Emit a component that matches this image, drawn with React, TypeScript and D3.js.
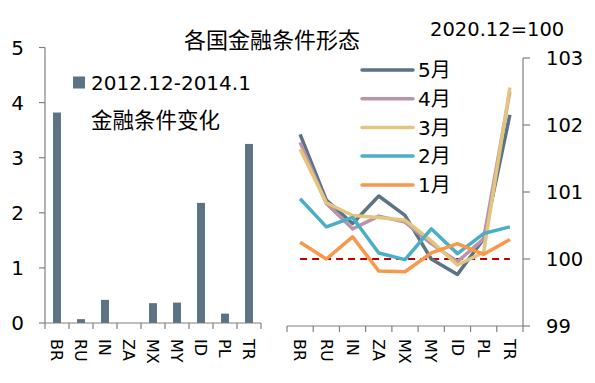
import React from "react";
import * as d3 from "d3";

const categories = ["BR", "RU", "IN", "ZA", "MX", "MY", "ID", "PL", "TR"];
const barValues = [3.82, 0.07, 0.42, 0, 0.36, 0.37, 2.18, 0.17, 3.25];
const barTicks = [0, 1, 2, 3, 4, 5];
const lineTicks = [99, 100, 101, 102, 103];

const seriesNames = ["5月", "4月", "3月", "2月", "1月"];
const may = [101.86, 100.88, 100.53, 100.94, 100.65, 100.0, 99.77, 100.3, 102.15];
const apr = [101.74, 100.83, 100.45, 100.64, 100.55, 100.23, 99.96, 100.3, 102.5];
const mar = [101.64, 100.84, 100.65, 100.62, 100.58, 100.27, 99.91, 100.1, 102.56];
const feb = [100.9, 100.48, 100.62, 100.09, 99.99, 100.45, 100.08, 100.38, 100.48];
const jan = [100.25, 100.0, 100.33, 99.82, 99.81, 100.09, 100.23, 100.07, 100.29];
const seriesValues = [may, apr, mar, feb, jan];
const seriesColors = ["#5b7384", "#bb94a8", "#e3c57e", "#4aaec6", "#f7984a"];
const baseline = 100;

const FONT = "'DejaVu Sans', 'Noto Sans CJK SC', sans-serif";
const AXIS = "#808080";

export default function App() {
  // Left chart
  const lx0 = 45, lx1 = 261, ly0 = 323, ly1 = 47.5;
  const xb = d3.scaleBand<string>().domain(categories).range([lx0, lx1]).paddingInner(0.67).paddingOuter(0.335);
  const yb = d3.scaleLinear().domain([0, 5]).range([ly0, ly1]);
  const lstep = (lx1 - lx0) / categories.length;

  // Right chart
  const rx0 = 287, rx1 = 523, ry0 = 326, ry1 = 58;
  const xp = d3.scalePoint<string>().domain(categories).range([rx0, rx1]).padding(0.5);
  const yl = d3.scaleLinear().domain([99, 103]).range([ry0, ry1]);
  const rstep = (rx1 - rx0) / categories.length;
  const line = d3.line<number>().x((_, i) => xp(categories[i]) as number).y((d) => yl(d));

  const legendY = [70, 98.7, 127.5, 156, 185];

  return (
    <svg width={595} height={383} style={{ position: "absolute", left: 0, top: 0, background: "#fff" }} fontFamily={FONT}>
      <rect width={595} height={383} fill="#fff" />
      <text x={272} y={40} fontSize={22} textAnchor="middle" dominantBaseline="central" fill="#000">各国金融条件形态</text>

      {/* Left bars */}
      {categories.map((c, i) => (
        <rect key={c} x={xb(c)} width={xb.bandwidth()} y={yb(barValues[i])} height={ly0 - yb(barValues[i])} fill="#5b7384" />
      ))}
      <line x1={lx0} x2={lx0} y1={ly0} y2={ly1} stroke={AXIS} strokeWidth={1.2} />
      <line x1={lx0} x2={lx1} y1={ly0} y2={ly0} stroke={AXIS} strokeWidth={1.2} />
      {barTicks.map((t) => (
        <g key={t}>
          <line x1={lx0 - 6} x2={lx0} y1={yb(t)} y2={yb(t)} stroke={AXIS} strokeWidth={1.2} />
          <text x={24} y={yb(t)} fontSize={20} textAnchor="end" dominantBaseline="central" fill="#000">{t}</text>
        </g>
      ))}
      {d3.range(categories.length + 1).map((i) => (
        <line key={i} x1={lx0 + i * lstep} x2={lx0 + i * lstep} y1={ly0} y2={ly0 + 6} stroke={AXIS} strokeWidth={1.2} />
      ))}
      {categories.map((c) => {
        const cx = (xb(c) as number) + xb.bandwidth() / 2;
        return (
          <text key={c} transform={`translate(${cx},339) rotate(90)`} dy="0.36em" fontSize={16} fill="#000">{c}</text>
        );
      })}
      <rect x={73} y={76.5} width={12} height={12} fill="#5b7384" />
      <text x={91} y={83} fontSize={20} dominantBaseline="central" fill="#000">2012.12-2014.1</text>
      <text x={91} y={120} fontSize={21.5} dominantBaseline="central" fill="#000">金融条件变化</text>

      {/* Right lines */}
      <line x1={rx1} x2={rx1} y1={ry0} y2={ry1} stroke={AXIS} strokeWidth={1.2} />
      <line x1={rx0} x2={rx1} y1={ry0} y2={ry0} stroke={AXIS} strokeWidth={1.2} />
      {lineTicks.map((t) => (
        <g key={t}>
          <line x1={rx1} x2={rx1 + 7} y1={yl(t)} y2={yl(t)} stroke={AXIS} strokeWidth={1.2} />
          <text x={546} y={yl(t)} fontSize={19.5} dominantBaseline="central" fill="#000">{t}</text>
        </g>
      ))}
      {d3.range(categories.length + 1).map((i) => (
        <line key={i} x1={rx0 + i * rstep} x2={rx0 + i * rstep} y1={ry0} y2={ry0 + 6} stroke={AXIS} strokeWidth={1.2} />
      ))}
      {categories.map((c) => (
        <text key={c} transform={`translate(${xp(c)},339) rotate(90)`} dy="0.36em" fontSize={16} fill="#000">{c}</text>
      ))}
      <line x1={xp(categories[0])} x2={xp(categories[categories.length - 1])} y1={yl(baseline)} y2={yl(baseline)} stroke="#c00000" strokeWidth={2.2} strokeDasharray="7,5" />
      {seriesValues.map((vals, k) => (
        <path key={k} d={line(vals) as string} fill="none" stroke={seriesColors[k]} strokeWidth={3.5} strokeLinejoin="round" />
      ))}
      {seriesNames.map((n, k) => (
        <g key={n}>
          <line x1={362} x2={413} y1={legendY[k]} y2={legendY[k]} stroke={seriesColors[k]} strokeWidth={3.5} strokeLinecap="round" />
          <text x={418} y={legendY[k]} fontSize={20} dominantBaseline="central" fill="#000">{n}</text>
        </g>
      ))}
      <text x={430} y={29} fontSize={19.5} dominantBaseline="central" fill="#000">2020.12=100</text>
    </svg>
  );
}
